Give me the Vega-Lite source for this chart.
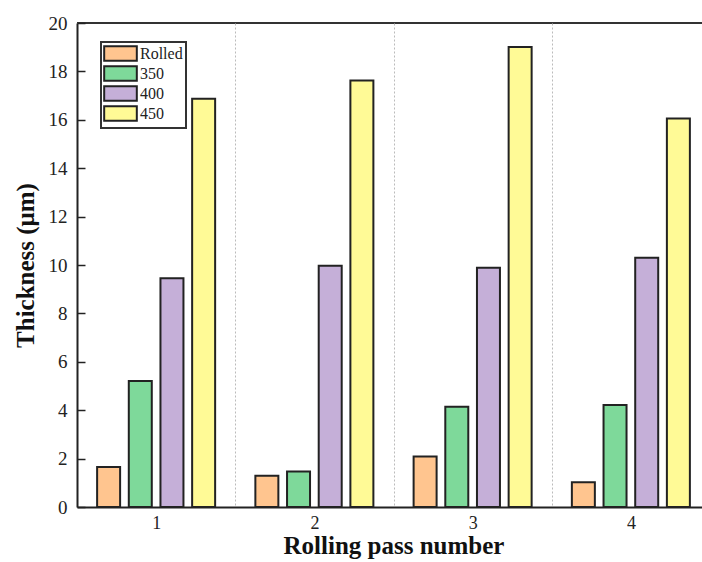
{
  "$schema": "https://vega.github.io/schema/vega-lite/v6.json",
  "width": 625,
  "height": 484,
  "autosize": {"type": "none"},
  "padding": {"left": 77, "top": 23, "right": 0, "bottom": 55},
  "background": "white",
  "config": {
    "font": "Liberation Serif",
    "view": {"stroke": null},
    "axis": {"labelFont": "Liberation Serif", "titleFont": "Liberation Serif"},
    "legend": {"strokeWidth": 2, "labelFont": "Liberation Serif"}
  },
  "data": {
    "values": [
      {"pass": "1", "group": "Rolled", "thickness": 1.65},
      {"pass": "1", "group": "350", "thickness": 5.21},
      {"pass": "1", "group": "400", "thickness": 9.45},
      {"pass": "1", "group": "450", "thickness": 16.87},
      {"pass": "2", "group": "Rolled", "thickness": 1.29},
      {"pass": "2", "group": "350", "thickness": 1.47},
      {"pass": "2", "group": "400", "thickness": 9.97},
      {"pass": "2", "group": "450", "thickness": 17.62},
      {"pass": "3", "group": "Rolled", "thickness": 2.09},
      {"pass": "3", "group": "350", "thickness": 4.14},
      {"pass": "3", "group": "400", "thickness": 9.89},
      {"pass": "3", "group": "450", "thickness": 19.01},
      {"pass": "4", "group": "Rolled", "thickness": 1.02},
      {"pass": "4", "group": "350", "thickness": 4.22},
      {"pass": "4", "group": "400", "thickness": 10.3},
      {"pass": "4", "group": "450", "thickness": 16.05}
    ]
  },
  "layer": [
    {
      "mark": {"type": "bar", "stroke": "#222", "strokeWidth": 2, "opacity": 1},
      "encoding": {
        "x": {
          "field": "pass",
          "type": "nominal",
          "scale": {"range": [0, 633], "paddingInner": 0, "paddingOuter": 0},
          "axis": {
            "title": "Rolling pass number",
            "labelAngle": 0,
            "ticks": false,
            "tickBand": "extent",
            "grid": true,
            "gridDash": [2, 2],
            "gridColor": "#bbbbbb",
            "gridWidth": 1,
            "domainColor": "#222222",
            "domainWidth": 2,
            "labelFontSize": 18,
            "labelColor": "#222222",
            "labelPadding": 7,
            "titleFontSize": 25,
            "titleFontWeight": "bold",
            "titleColor": "#111111",
            "titlePadding": 1,
            "zindex": 1
          }
        },
        "xOffset": {
          "field": "group",
          "type": "nominal",
          "sort": ["Rolled", "350", "400", "450"],
          "scale": {"paddingInner": 0.274, "paddingOuter": 0.635}
        },
        "y": {
          "field": "thickness",
          "type": "quantitative",
          "scale": {"domain": [0, 20], "nice": false},
          "axis": {
            "title": "Thickness (μm)",
            "values": [0, 1, 2, 3, 4, 5, 6, 7, 8, 9, 10, 11, 12, 13, 14, 15, 16, 17, 18, 19, 20],
            "labelExpr": "datum.value % 2 === 0 ? datum.label : ''",
            "labelOverlap": false,
            "tickSize": {"condition": {"test": "datum.value % 2 === 0", "value": -8}, "value": -5},
            "tickWidth": 1.5,
            "tickColor": "#222222",
            "domainColor": "#222222",
            "domainWidth": 2,
            "labelFontSize": 19,
            "labelColor": "#222222",
            "labelPadding": 18,
            "titleFontSize": 25,
            "titleFontWeight": "bold",
            "titleColor": "#111111",
            "titlePadding": 10,
            "grid": false,
            "zindex": 1
          }
        },
        "color": {
          "field": "group",
          "type": "nominal",
          "sort": ["Rolled", "350", "400", "450"],
          "scale": {
            "domain": ["Rolled", "350", "400", "450"],
            "range": ["#FFC58F", "#7ED99A", "#C5AFD8", "#FFFA96"]
          },
          "legend": {
            "title": null,
            "orient": "none",
            "legendX": 24,
            "legendY": 19,
            "strokeColor": "#333333",
            "fillColor": "white",
            "padding": 3,
            "symbolType": "M-2.22,-1H2.22V1H-2.22Z",
            "symbolSize": 216,
            "symbolStrokeColor": "#222222",
            "symbolStrokeWidth": 2,
            "symbolOpacity": 1,
            "symbolOffset": 8,
            "labelOffset": 11,
            "labelFontSize": 16,
            "labelColor": "#222222",
            "rowPadding": -6.2
          }
        }
      }
    },
    {
      "mark": {"type": "rule", "stroke": "#333333", "strokeWidth": 2},
      "encoding": {"y": {"datum": 20}}
    }
  ]
}
